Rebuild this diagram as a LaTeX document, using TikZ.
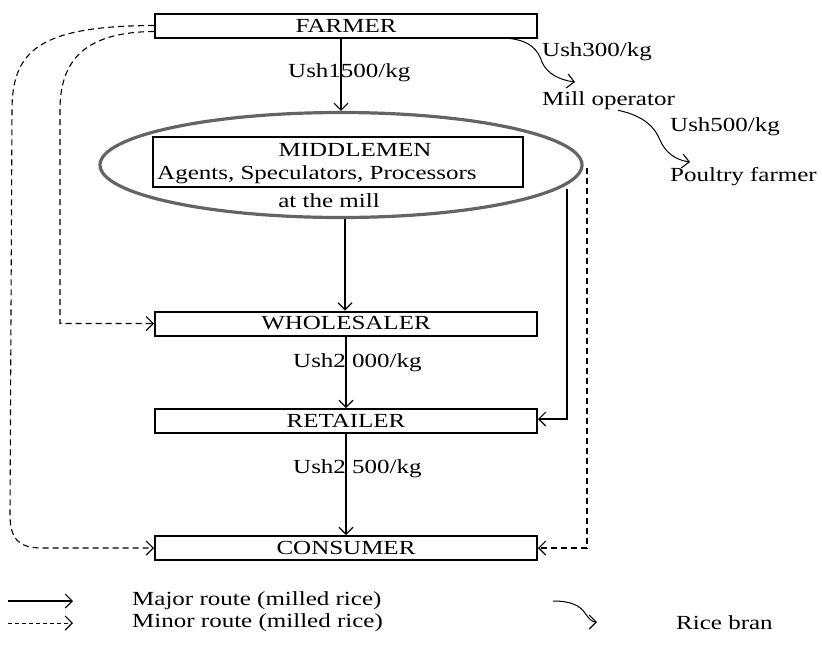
\documentclass[tikz,border=0pt]{standalone}
\usepackage{fontspec}
\setmainfont{Liberation Serif}[FakeStretch=1.25]
\usetikzlibrary{arrows.meta,shapes.geometric}
\definecolor{ellgray}{RGB}{100,100,100}
\begin{document}
\begin{tikzpicture}[x=1pt,y=-1pt,
  every node/.style={font=\fontsize{20}{24}\selectfont, inner sep=0pt},
  box/.style={draw, line width=2pt, minimum width=382pt, minimum height=24pt},
  tip/.style={-{Straight Barb[length=7pt,width=14pt,line width=1.1pt]}},
  major/.style={line width=1.1pt, tip},
  minor/.style={line width=1.1pt, dash pattern=on 6pt off 4pt, tip},
  bran/.style={line width=1pt, tip}]
\useasboundingbox (0,0) rectangle (822,654);
% ellipse and middlemen
\node[ellipse, draw=ellgray, line width=3.2pt, minimum width=482pt, minimum height=105pt] (ell) at (341,165) {};
\node[draw, line width=2pt, minimum width=370pt, minimum height=50pt] (mid) at (338,162) {};
\node (midt) at (355,150) {MIDDLEMEN};
\node[anchor=west] (agents) at (157,175) {Agents, Speculators, Processors};
\node (atmill) at (329,201) {at the mill};
% boxes
\node[box] (farmer) at (346,25.5) {FARMER};
\node[box] (whole) at (346,323.5) {WHOLESALER};
\node[box] (retail) at (346,421) {RETAILER};
\node[box] (consumer) at (346,548) {CONSUMER};
% major arrows
\draw[major] ([xshift=-5pt]farmer.south) -- (ell.north);
\node (p1) at (341,73) {\llap{Ush1}\rlap{500/kg}};
\draw[major] ([xshift=4pt]ell.south) -- ([xshift=-1pt]whole.north);
\node (p2) at (346,363) {\llap{Ush2}\rlap{\ 000/kg}};
\draw[major] (whole.south) -- (retail.north);
\node (p3) at (346,469) {\llap{Ush2}\rlap{\ 500/kg}};
\draw[major] (retail.south) -- (consumer.north);
\coordinate (rs) at (567,189);
\draw[major] (rs) |- ([yshift=2pt]retail.east);
% minor arrows
\coordinate (rd) at (587,168);
\draw[minor] (rd) |- (consumer.east);
\draw[minor] (farmer.west) .. controls (40,26) and (12,50) .. (12,110) -- (10,515)
  .. controls (10,540) and (20,548) .. (42,548) -- (consumer.west);
\draw[minor] ([yshift=-6pt]farmer.west) .. controls (85,32) and (60,60) .. (60,110) -- (60,323.5) -- (whole.west);
% rice bran
\node[anchor=west] (u300) at (542,52) {Ush300/kg};
\node[anchor=west] (millop) at (542,101) {Mill operator};
\node[anchor=west] (u500) at (670,127) {Ush500/kg};
\node[anchor=west] (poultry) at (670,177) {Poultry farmer};
\draw[bran] (503,38) .. controls (530,39) and (538,50) .. (542,62) .. controls (547,74) and (560,80) .. (575,82);
\draw[bran] (millop.south -| 618,0) .. controls (645,116) and (655,128) .. (660,140) .. controls (665,152) and (675,160) .. (690,162);
% legend
\coordinate (l1a) at (8,601);
\coordinate (l1b) at (73,601);
\coordinate (l2a) at (8,623);
\coordinate (l2b) at (73,623);
\draw[major] (l1a) -- (l1b);
\draw[line width=1pt, dash pattern=on 4pt off 3pt, tip] (l2a) -- (l2b);
\node[anchor=west] (lg1) at (132,601) {Major route (milled rice)};
\node[anchor=west] (lg2) at (132,623) {Minor route (milled rice)};
\coordinate (l3a) at (553,601);
\coordinate (l3b) at (597,622);
\draw[bran] (l3a) .. controls (572,601) and (580,606) .. (585,613) .. controls (589,619) and (592,622) .. (l3b);
\node[anchor=west] (lg3) at (676,623) {Rice bran};
\end{tikzpicture}
\end{document}
